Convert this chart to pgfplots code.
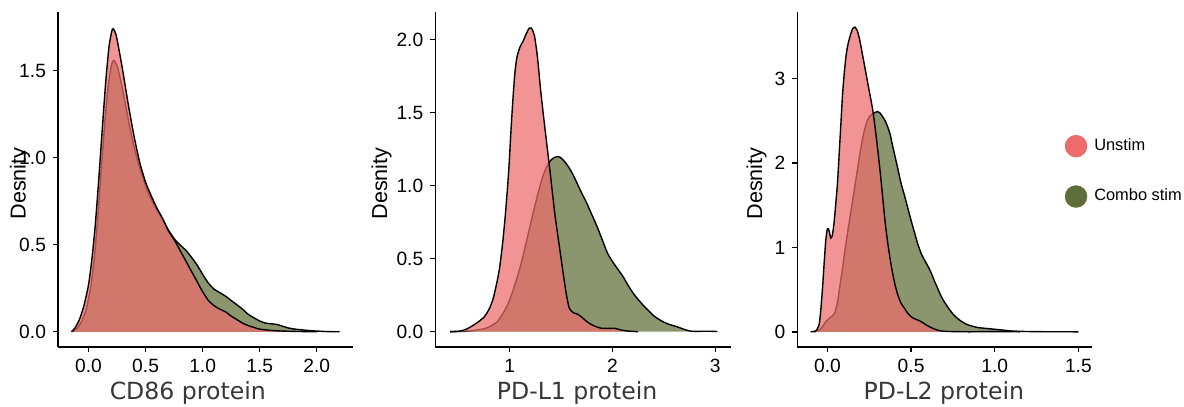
\documentclass[border=0pt]{standalone}
\usepackage{fontspec}
\setmainfont{Liberation Sans}
\newfontfamily\dejavu{DejaVu Sans}
\usepackage{pgfplots}
\pgfplotsset{compat=1.18}

\definecolor{unstim}{RGB}{237,107,107}
\definecolor{combo}{RGB}{94,110,56}
\definecolor{titlegray}{RGB}{55,55,55}

\pgfplotsset{
  dens/.style={
    scale only axis, width=147.5pt, height=167.5pt,
    anchor=south west,
    axis x line*=bottom, axis y line*=left,
    axis line style={line width=0.7pt, black},
    tick align=outside, major tick length=2.5pt,
    tick style={line width=0.7pt, black},
    tick label style={font=\fontsize{9.6}{11}\selectfont, /pgf/number format/assume math mode=true},
    xlabel style={font=\dejavu\fontsize{11.8}{14}\selectfont, text=titlegray, anchor=center},
    ylabel style={font=\fontsize{10.8}{12}\selectfont, anchor=center},
    ylabel={Desnity},
  },
  fillc/.style={draw=none, fill=combo, fill opacity=0.72, forget plot, smooth, tension=0.4},
  fillu/.style={draw=none, fill=unstim, fill opacity=0.72, forget plot, smooth, tension=0.4},
  curve/.style={black, line width=0.7pt, forget plot, smooth, tension=0.4},
  onedec/.style={/pgf/number format/.cd, fixed, fixed zerofill, precision=1},
}

\begin{document}
\begin{tikzpicture}
\useasboundingbox (0,0) rectangle (592pt,203.5pt);

% CD86
\begin{axis}[dens, at={(29pt,30pt)},
  xmin=-0.2675, xmax=2.3175, ymin=-0.0875, ymax=1.8375,
  xtick={0,0.5,1,1.5,2}, ytick={0,0.5,1,1.5},
  xticklabel style={onedec}, yticklabel style={onedec},
  xlabel={CD86 protein},
  xlabel style={at={(axis description cs:0.44,-0.137)}},
  ylabel style={at={(axis description cs:-0.129,0.488)}}]
\addplot[fillc] coordinates {(-0.14,0)(-0.1,0.02)(-0.06,0.06)(-0.02,0.13)(0.02,0.26)(0.05,0.42)(0.08,0.65)(0.11,0.92)(0.14,1.18)(0.17,1.40)(0.20,1.53)(0.22,1.56)(0.25,1.53)(0.28,1.45)(0.32,1.32)(0.36,1.18)(0.40,1.06)(0.45,0.94)(0.50,0.84)(0.55,0.76)(0.60,0.70)(0.65,0.645)(0.70,0.585)(0.75,0.535)(0.80,0.50)(0.85,0.47)(0.90,0.43)(0.95,0.385)(1.00,0.33)(1.05,0.28)(1.10,0.245)(1.15,0.225)(1.20,0.205)(1.25,0.18)(1.30,0.155)(1.35,0.13)(1.40,0.10)(1.45,0.08)(1.50,0.062)(1.55,0.05)(1.60,0.046)(1.65,0.042)(1.70,0.032)(1.75,0.022)(1.80,0.016)(1.90,0.009)(2.00,0.004)(2.10,0.001)(2.2,0)} \closedcycle;
\addplot[curve] coordinates {(-0.14,0)(-0.1,0.02)(-0.06,0.06)(-0.02,0.13)(0.02,0.26)(0.05,0.42)(0.08,0.65)(0.11,0.92)(0.14,1.18)(0.17,1.40)(0.20,1.53)(0.22,1.56)(0.25,1.53)(0.28,1.45)(0.32,1.32)(0.36,1.18)(0.40,1.06)(0.45,0.94)(0.50,0.84)(0.55,0.76)(0.60,0.70)(0.65,0.645)(0.70,0.585)(0.75,0.535)(0.80,0.50)(0.85,0.47)(0.90,0.43)(0.95,0.385)(1.00,0.33)(1.05,0.28)(1.10,0.245)(1.15,0.225)(1.20,0.205)(1.25,0.18)(1.30,0.155)(1.35,0.13)(1.40,0.10)(1.45,0.08)(1.50,0.062)(1.55,0.05)(1.60,0.046)(1.65,0.042)(1.70,0.032)(1.75,0.022)(1.80,0.016)(1.90,0.009)(2.00,0.004)(2.10,0.001)(2.2,0)};
\addplot[fillu] coordinates {(-0.15,0)(-0.12,0.02)(-0.08,0.07)(-0.04,0.15)(0.0,0.27)(0.03,0.42)(0.06,0.62)(0.09,0.88)(0.12,1.16)(0.15,1.43)(0.18,1.64)(0.21,1.74)(0.24,1.71)(0.27,1.61)(0.30,1.50)(0.35,1.30)(0.40,1.12)(0.45,0.97)(0.50,0.86)(0.55,0.78)(0.60,0.71)(0.65,0.65)(0.70,0.58)(0.75,0.53)(0.80,0.47)(0.85,0.41)(0.90,0.35)(0.95,0.29)(1.00,0.23)(1.05,0.18)(1.10,0.15)(1.15,0.13)(1.20,0.115)(1.25,0.09)(1.30,0.07)(1.35,0.05)(1.40,0.035)(1.45,0.025)(1.50,0.015)(1.60,0.008)(1.70,0.004)(1.80,0.002)(1.90,0.001)(2.0,0)} \closedcycle;
\addplot[curve] coordinates {(-0.15,0)(-0.12,0.02)(-0.08,0.07)(-0.04,0.15)(0.0,0.27)(0.03,0.42)(0.06,0.62)(0.09,0.88)(0.12,1.16)(0.15,1.43)(0.18,1.64)(0.21,1.74)(0.24,1.71)(0.27,1.61)(0.30,1.50)(0.35,1.30)(0.40,1.12)(0.45,0.97)(0.50,0.86)(0.55,0.78)(0.60,0.71)(0.65,0.65)(0.70,0.58)(0.75,0.53)(0.80,0.47)(0.85,0.41)(0.90,0.35)(0.95,0.29)(1.00,0.23)(1.05,0.18)(1.10,0.15)(1.15,0.13)(1.20,0.115)(1.25,0.09)(1.30,0.07)(1.35,0.05)(1.40,0.035)(1.45,0.025)(1.50,0.015)(1.60,0.008)(1.70,0.004)(1.80,0.002)(1.90,0.001)(2.0,0)};
\end{axis}

% PD-L1
\begin{axis}[dens, at={(217.65pt,30pt)}, width=147.7pt,
  xmin=0.276, xmax=3.15, ymin=-0.105, ymax=2.19,
  xtick={1,2,3}, ytick={0,0.5,1,1.5,2},
  yticklabel style={onedec},
  xlabel={PD-L1 protein},
  xlabel style={at={(axis description cs:0.48,-0.137)}},
  ylabel style={at={(axis description cs:-0.182,0.488)}}]
\addplot[fillc] coordinates {(0.42,0)(0.55,0.002)(0.65,0.008)(0.75,0.02)(0.82,0.04)(0.88,0.07)(0.93,0.12)(0.97,0.17)(1.00,0.22)(1.04,0.30)(1.08,0.39)(1.12,0.49)(1.16,0.61)(1.20,0.73)(1.24,0.85)(1.28,0.96)(1.32,1.06)(1.36,1.13)(1.40,1.175)(1.44,1.195)(1.47,1.20)(1.50,1.19)(1.54,1.16)(1.58,1.12)(1.62,1.07)(1.66,1.01)(1.70,0.95)(1.75,0.88)(1.80,0.80)(1.85,0.72)(1.90,0.63)(1.95,0.54)(2.00,0.48)(2.05,0.43)(2.10,0.38)(2.15,0.32)(2.20,0.265)(2.25,0.22)(2.30,0.18)(2.35,0.145)(2.40,0.11)(2.45,0.085)(2.50,0.065)(2.55,0.05)(2.60,0.04)(2.65,0.028)(2.70,0.015)(2.75,0.005)(2.80,0.002)(2.90,0.003)(3.0,0.002)(3.02,0)} \closedcycle;
\addplot[curve] coordinates {(0.42,0)(0.55,0.002)(0.65,0.008)(0.75,0.02)(0.82,0.04)(0.88,0.07)(0.93,0.12)(0.97,0.17)(1.00,0.22)(1.04,0.30)(1.08,0.39)(1.12,0.49)(1.16,0.61)(1.20,0.73)(1.24,0.85)(1.28,0.96)(1.32,1.06)(1.36,1.13)(1.40,1.175)(1.44,1.195)(1.47,1.20)(1.50,1.19)(1.54,1.16)(1.58,1.12)(1.62,1.07)(1.66,1.01)(1.70,0.95)(1.75,0.88)(1.80,0.80)(1.85,0.72)(1.90,0.63)(1.95,0.54)(2.00,0.48)(2.05,0.43)(2.10,0.38)(2.15,0.32)(2.20,0.265)(2.25,0.22)(2.30,0.18)(2.35,0.145)(2.40,0.11)(2.45,0.085)(2.50,0.065)(2.55,0.05)(2.60,0.04)(2.65,0.028)(2.70,0.015)(2.75,0.005)(2.80,0.002)(2.90,0.003)(3.0,0.002)(3.02,0)};
\addplot[fillu] coordinates {(0.42,0)(0.5,0.003)(0.55,0.01)(0.6,0.025)(0.65,0.046)(0.7,0.07)(0.75,0.10)(0.78,0.13)(0.81,0.17)(0.84,0.23)(0.87,0.32)(0.90,0.43)(0.93,0.60)(0.96,0.82)(0.99,1.10)(1.01,1.35)(1.03,1.58)(1.05,1.77)(1.07,1.88)(1.10,1.95)(1.13,1.99)(1.16,2.04)(1.19,2.08)(1.21,2.08)(1.24,2.03)(1.27,1.88)(1.30,1.66)(1.33,1.47)(1.36,1.29)(1.40,1.05)(1.44,0.80)(1.48,0.60)(1.52,0.40)(1.55,0.26)(1.58,0.16)(1.62,0.13)(1.66,0.12)(1.70,0.10)(1.74,0.075)(1.78,0.055)(1.82,0.04)(1.88,0.025)(1.95,0.022)(2.02,0.023)(2.08,0.012)(2.15,0.004)(2.25,0)} \closedcycle;
\addplot[curve] coordinates {(0.42,0)(0.5,0.003)(0.55,0.01)(0.6,0.025)(0.65,0.046)(0.7,0.07)(0.75,0.10)(0.78,0.13)(0.81,0.17)(0.84,0.23)(0.87,0.32)(0.90,0.43)(0.93,0.60)(0.96,0.82)(0.99,1.10)(1.01,1.35)(1.03,1.58)(1.05,1.77)(1.07,1.88)(1.10,1.95)(1.13,1.99)(1.16,2.04)(1.19,2.08)(1.21,2.08)(1.24,2.03)(1.27,1.88)(1.30,1.66)(1.33,1.47)(1.36,1.29)(1.40,1.05)(1.44,0.80)(1.48,0.60)(1.52,0.40)(1.55,0.26)(1.58,0.16)(1.62,0.13)(1.66,0.12)(1.70,0.10)(1.74,0.075)(1.78,0.055)(1.82,0.04)(1.88,0.025)(1.95,0.022)(2.02,0.023)(2.08,0.012)(2.15,0.004)(2.25,0)};
\end{axis}

% PD-L2
\begin{axis}[dens, at={(398.65pt,30pt)},
  xmin=-0.18, xmax=1.583, ymin=-0.18, ymax=3.79,
  xtick={0,0.5,1,1.5}, ytick={0,1,2,3},
  xticklabel style={onedec},
  xlabel={PD-L2 protein},
  xlabel style={at={(axis description cs:0.497,-0.137)}},
  ylabel style={at={(axis description cs:-0.138,0.488)}},
  legend style={at={(axis description cs:0.907,0.633)}, anchor=north west,
    draw=none, fill=none, inner sep=0pt, outer sep=0pt,
    row sep=14pt, column sep=3pt, font=\fontsize{8.2}{10}\selectfont,
    nodes={inner sep=0.5pt}},
  legend cell align=left]
\addplot[fillc] coordinates {(-0.08,0)(-0.05,0.02)(-0.03,0.06)(-0.01,0.12)(0.01,0.16)(0.03,0.19)(0.045,0.23)(0.06,0.35)(0.075,0.55)(0.09,0.75)(0.105,0.97)(0.12,1.17)(0.135,1.36)(0.15,1.55)(0.165,1.74)(0.18,1.93)(0.195,2.12)(0.21,2.29)(0.225,2.42)(0.24,2.51)(0.255,2.56)(0.27,2.58)(0.285,2.60)(0.30,2.61)(0.315,2.59)(0.33,2.55)(0.345,2.50)(0.36,2.43)(0.375,2.34)(0.39,2.20)(0.405,2.07)(0.42,1.94)(0.44,1.76)(0.46,1.62)(0.48,1.47)(0.50,1.32)(0.52,1.18)(0.54,1.04)(0.56,0.93)(0.58,0.85)(0.60,0.78)(0.62,0.70)(0.64,0.60)(0.66,0.51)(0.68,0.42)(0.70,0.35)(0.72,0.29)(0.74,0.235)(0.76,0.19)(0.78,0.155)(0.80,0.125)(0.83,0.09)(0.86,0.07)(0.90,0.05)(0.95,0.04)(1.00,0.03)(1.05,0.02)(1.10,0.01)(1.18,0.004)(1.30,0.001)(1.50,0)} \closedcycle;
\addplot[curve] coordinates {(-0.08,0)(-0.05,0.02)(-0.03,0.06)(-0.01,0.12)(0.01,0.16)(0.03,0.19)(0.045,0.23)(0.06,0.35)(0.075,0.55)(0.09,0.75)(0.105,0.97)(0.12,1.17)(0.135,1.36)(0.15,1.55)(0.165,1.74)(0.18,1.93)(0.195,2.12)(0.21,2.29)(0.225,2.42)(0.24,2.51)(0.255,2.56)(0.27,2.58)(0.285,2.60)(0.30,2.61)(0.315,2.59)(0.33,2.55)(0.345,2.50)(0.36,2.43)(0.375,2.34)(0.39,2.20)(0.405,2.07)(0.42,1.94)(0.44,1.76)(0.46,1.62)(0.48,1.47)(0.50,1.32)(0.52,1.18)(0.54,1.04)(0.56,0.93)(0.58,0.85)(0.60,0.78)(0.62,0.70)(0.64,0.60)(0.66,0.51)(0.68,0.42)(0.70,0.35)(0.72,0.29)(0.74,0.235)(0.76,0.19)(0.78,0.155)(0.80,0.125)(0.83,0.09)(0.86,0.07)(0.90,0.05)(0.95,0.04)(1.00,0.03)(1.05,0.02)(1.10,0.01)(1.18,0.004)(1.30,0.001)(1.50,0)};
\addplot[fillu] coordinates {(-0.10,0)(-0.07,0.01)(-0.05,0.08)(-0.04,0.25)(-0.03,0.50)(-0.02,0.80)(-0.01,1.08)(0.0,1.22)(0.01,1.20)(0.02,1.11)(0.03,1.15)(0.04,1.30)(0.05,1.52)(0.06,1.76)(0.07,2.10)(0.08,2.45)(0.09,2.80)(0.10,3.05)(0.11,3.25)(0.12,3.38)(0.135,3.50)(0.15,3.59)(0.165,3.61)(0.18,3.56)(0.195,3.44)(0.21,3.28)(0.225,3.12)(0.24,2.96)(0.255,2.80)(0.27,2.64)(0.285,2.42)(0.30,2.17)(0.315,1.90)(0.33,1.60)(0.345,1.30)(0.36,1.06)(0.375,0.86)(0.39,0.69)(0.405,0.55)(0.42,0.44)(0.44,0.34)(0.46,0.28)(0.48,0.22)(0.50,0.18)(0.52,0.155)(0.54,0.14)(0.56,0.12)(0.58,0.095)(0.60,0.07)(0.62,0.05)(0.65,0.025)(0.68,0.01)(0.72,0.004)(0.78,0.002)(0.85,0.0)(0.95,0.003)(1.05,0.002)(1.15,0)} \closedcycle;
\addplot[curve] coordinates {(-0.10,0)(-0.07,0.01)(-0.05,0.08)(-0.04,0.25)(-0.03,0.50)(-0.02,0.80)(-0.01,1.08)(0.0,1.22)(0.01,1.20)(0.02,1.11)(0.03,1.15)(0.04,1.30)(0.05,1.52)(0.06,1.76)(0.07,2.10)(0.08,2.45)(0.09,2.80)(0.10,3.05)(0.11,3.25)(0.12,3.38)(0.135,3.50)(0.15,3.59)(0.165,3.61)(0.18,3.56)(0.195,3.44)(0.21,3.28)(0.225,3.12)(0.24,2.96)(0.255,2.80)(0.27,2.64)(0.285,2.42)(0.30,2.17)(0.315,1.90)(0.33,1.60)(0.345,1.30)(0.36,1.06)(0.375,0.86)(0.39,0.69)(0.405,0.55)(0.42,0.44)(0.44,0.34)(0.46,0.28)(0.48,0.22)(0.50,0.18)(0.52,0.155)(0.54,0.14)(0.56,0.12)(0.58,0.095)(0.60,0.07)(0.62,0.05)(0.65,0.025)(0.68,0.01)(0.72,0.004)(0.78,0.002)(0.85,0.0)(0.95,0.003)(1.05,0.002)(1.15,0)};
\addlegendimage{legend image code/.code={\fill[unstim] (0pt,0pt) circle (5.4pt);}}
\addlegendentry{Unstim}
\addlegendimage{legend image code/.code={\fill[combo] (0pt,0pt) circle (5.4pt);}}
\addlegendentry{Combo stim}
\end{axis}
\end{tikzpicture}
\end{document}
